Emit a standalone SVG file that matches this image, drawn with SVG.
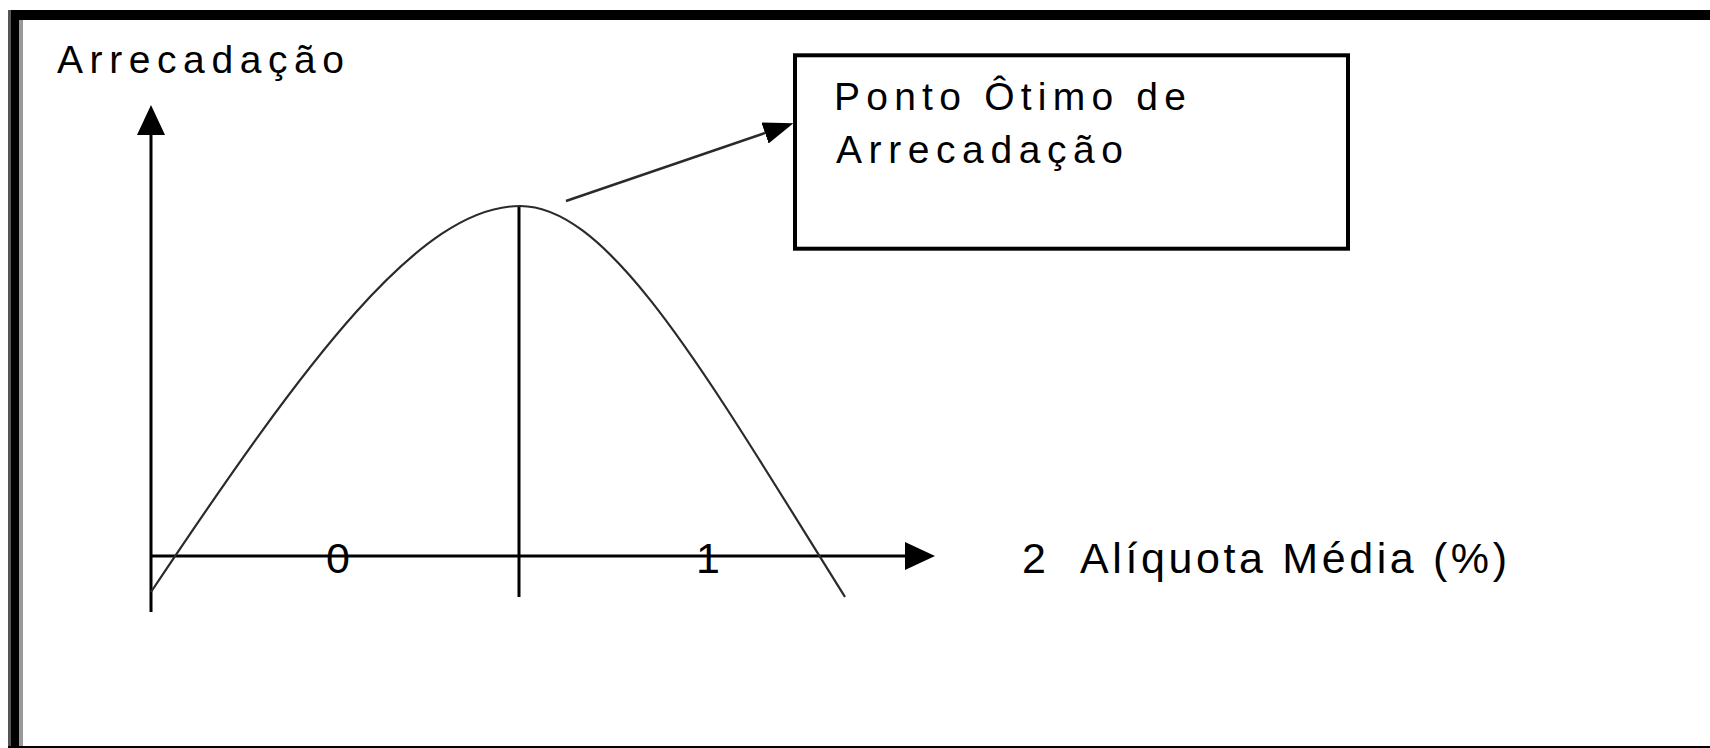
<svg xmlns="http://www.w3.org/2000/svg" width="1710" height="748" viewBox="0 0 1710 748">
  <style>
    .lbl { font-family: "Liberation Sans", Arial, sans-serif; fill: #000; }
    .s39 { font-size: 39px; }
    .s43 { font-size: 43px; }
    .axis { stroke: #000; stroke-width: 3; fill: none; }
    .curve { stroke: #2a2a2a; stroke-width: 2.2; fill: none; }
    .leader { stroke: #2a2a2a; stroke-width: 2.5; fill: none; }
  </style>
  <defs>
    <marker id="headAxis" markerUnits="userSpaceOnUse" markerWidth="31" markerHeight="29" refX="0" refY="14" orient="auto">
      <path d="M0,0 L30,14 L0,28 Z" fill="#000"/>
    </marker>
    <marker id="headLeader" markerUnits="userSpaceOnUse" markerWidth="31" markerHeight="23" refX="0" refY="11" orient="auto">
      <path d="M0,0 L30,11 L0,22 Z" fill="#000"/>
    </marker>
  </defs>

  <rect x="0" y="0" width="1710" height="748" fill="#fff"/>

  <g id="frame">
    <rect x="8" y="10" width="1702" height="10" fill="#000"/>
    <rect x="8" y="10" width="3" height="738" fill="#555"/>
    <rect x="11" y="10" width="8" height="738" fill="#000"/>
    <rect x="19" y="20" width="4" height="728" fill="#999"/>
    <rect x="8" y="746" width="1702" height="2" fill="#000"/>
  </g>

  <g id="connectors">
    <line id="y-axis" class="axis" x1="151" y1="612" x2="151" y2="135" marker-end="url(#headAxis)"/>
    <line id="x-axis" class="axis" x1="151" y1="556" x2="905" y2="556" marker-end="url(#headAxis)"/>
    <line id="optimum-line" class="axis" x1="519" y1="206" x2="519" y2="597"/>
    <line id="leader" class="leader" x1="566" y1="201" x2="765" y2="133" marker-end="url(#headLeader)"/>
  </g>

  <g id="curve">
    <path class="curve" d="M151,592 C306,360 420,206 520,206 C610,206 705,373 845,597"/>
  </g>

  <g id="label-y">
    <text class="lbl s39" x="57" y="73" textLength="287" lengthAdjust="spacing">Arrecadação</text>
  </g>

  <g id="node-optimum">
    <rect x="795" y="55.3" width="553" height="193.4" fill="none" stroke="#000" stroke-width="4"/>
    <text class="lbl s39" x="834" y="110" textLength="352" lengthAdjust="spacing">Ponto Ôtimo de</text>
    <text class="lbl s39" x="836" y="163" textLength="287" lengthAdjust="spacing">Arrecadação</text>
  </g>

  <g id="ticks">
    <text class="lbl s43" x="338" y="573" text-anchor="middle">0</text>
    <text class="lbl s43" x="708" y="573" text-anchor="middle">1</text>
    <text class="lbl s43" x="1022" y="573">2</text>
  </g>

  <g id="label-x">
    <text class="lbl s43" x="1080" y="573" textLength="427" lengthAdjust="spacing">Alíquota Média (%)</text>
  </g>
</svg>
